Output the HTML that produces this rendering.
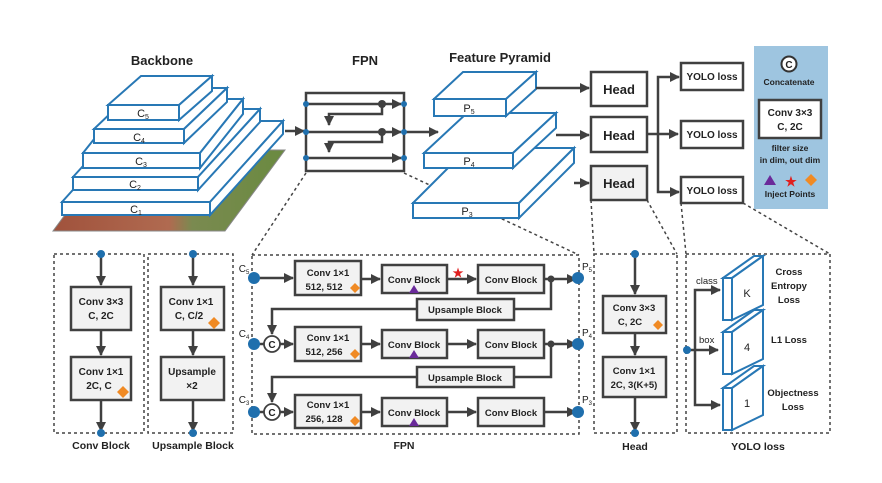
<!DOCTYPE html>
<html><head><meta charset="utf-8"><style>
html,body{margin:0;padding:0;background:#fff;}
svg{display:block;}
text{font-family:"Liberation Sans",sans-serif;font-weight:bold;fill:#222;}
</style></head><body>
<svg width="882" height="483" viewBox="0 0 882 483" xmlns="http://www.w3.org/2000/svg">
<defs>
<marker id="a" viewBox="0 0 10 10" refX="9" refY="5" markerWidth="4" markerHeight="4" orient="auto"><path d="M0,0L10,5L0,10z" fill="#404040"/></marker>
<linearGradient id="img" x1="0" y1="0" x2="1" y2="0"><stop offset="0" stop-color="#a0523c"/><stop offset="0.5" stop-color="#b06a50"/><stop offset="0.6" stop-color="#7a8a50"/><stop offset="1" stop-color="#6a8a40"/></linearGradient>
</defs>
<g stroke="#404040" stroke-width="2.5" fill="none">
<polygon points="53,231 225,231 285,150 113,150" fill="url(#img)" stroke="#888" stroke-width="1"/>
</g>
<g stroke="#2878b5" stroke-width="2" fill="#fff">
<polygon points="62,202 135,121 283,121 210,202"/><polygon points="210,202 283,121 283,134 210,215"/><rect x="62" y="202" width="148" height="13"/>
<polygon points="73,177 135,109 260,109 198,177"/><polygon points="198,177 260,109 260,122 198,190"/><rect x="73" y="177" width="125" height="13"/>
<polygon points="83,153 126,99 243,99 200,153"/><polygon points="200,153 243,99 243,114 200,168"/><rect x="83" y="153" width="117" height="15"/>
<polygon points="94,129 137,88 227,88 184,129"/><polygon points="184,129 227,88 227,102 184,143"/><rect x="94" y="129" width="90" height="14"/>
<polygon points="108,105 141,76 212,76 179,105"/><polygon points="179,105 212,76 212,91 179,120"/><rect x="108" y="105" width="71" height="15"/>
</g>
<g font-size="11" text-anchor="middle">
<text x="143" y="117" style="font-weight:normal">C<tspan font-size="7" dy="2">5</tspan></text>
<text x="139" y="141" style="font-weight:normal">C<tspan font-size="7" dy="2">4</tspan></text>
<text x="141" y="165" style="font-weight:normal">C<tspan font-size="7" dy="2">3</tspan></text>
<text x="135" y="188" style="font-weight:normal">C<tspan font-size="7" dy="2">2</tspan></text>
<text x="136" y="213" style="font-weight:normal">C<tspan font-size="7" dy="2">1</tspan></text>
</g>
<text x="162" y="65" font-size="13" text-anchor="middle">Backbone</text>
<text x="365" y="65" font-size="13" text-anchor="middle">FPN</text>
<text x="500" y="62" font-size="13" text-anchor="middle">Feature Pyramid</text>

<g stroke="#444" stroke-width="1.5" stroke-dasharray="3,3" fill="none">
<line x1="306" y1="173" x2="252" y2="255"/>
<line x1="404" y1="173" x2="579" y2="255"/>
<line x1="591" y1="200" x2="594" y2="254"/>
<line x1="647" y1="200" x2="677" y2="254"/>
<line x1="681" y1="203" x2="686" y2="254"/>
<line x1="743" y1="203" x2="830" y2="254"/>
</g>

<g stroke="#404040" stroke-width="2.5" fill="none">
<rect x="306" y="93" width="98" height="78" fill="#fff"/>
<line x1="285" y1="131" x2="304" y2="131" marker-end="url(#a)"/>
<line x1="306" y1="104" x2="401" y2="104" marker-end="url(#a)"/>
<line x1="306" y1="132" x2="401" y2="132" marker-end="url(#a)"/>
<line x1="306" y1="158" x2="401" y2="158" marker-end="url(#a)"/>
<polyline points="382,104 382,114 329,114 329,125" marker-end="url(#a)"/>
<polyline points="382,132 382,142 329,142 329,152" marker-end="url(#a)"/>
<line x1="404" y1="132" x2="438" y2="132" marker-end="url(#a)"/>
</g>
<g fill="#404040"><circle cx="382" cy="104" r="4"/><circle cx="382" cy="132" r="4"/></g>
<g fill="#1f6fad"><circle cx="306" cy="104" r="3"/><circle cx="306" cy="132" r="3"/><circle cx="306" cy="158" r="3"/><circle cx="404" cy="104" r="3"/><circle cx="404" cy="132" r="3"/><circle cx="404" cy="158" r="3"/></g>

<g stroke="#2878b5" stroke-width="2" fill="#fff">
<polygon points="413,203 468,148 574,148 519,203"/><polygon points="519,203 574,148 574,163 519,218"/><rect x="413" y="203" width="106" height="15"/>
<polygon points="424,153 467,113 556,113 513,153"/><polygon points="513,153 556,113 556,128 513,168"/><rect x="424" y="153" width="89" height="15"/>
<polygon points="434,99 463,72 536,72 506,99"/><polygon points="506,99 536,72 536,89 506,116"/><rect x="434" y="99" width="72" height="17"/>
</g>
<text x="469" y="112" font-size="11" text-anchor="middle" style="font-weight:normal">P<tspan font-size="7" dy="2">5</tspan></text>
<text x="469" y="165" font-size="11" text-anchor="middle" style="font-weight:normal">P<tspan font-size="7" dy="2">4</tspan></text>
<text x="467" y="215" font-size="11" text-anchor="middle" style="font-weight:normal">P<tspan font-size="7" dy="2">3</tspan></text>

<g stroke="#404040" stroke-width="2.5" fill="none">
<line x1="536" y1="88" x2="589" y2="88" marker-end="url(#a)"/>
<line x1="556" y1="135" x2="589" y2="135" marker-end="url(#a)"/>
<line x1="574" y1="183" x2="589" y2="183" marker-end="url(#a)"/>
<rect x="591" y="72" width="56" height="34" fill="#fff"/>
<rect x="591" y="117" width="56" height="35" fill="#fff"/>
<rect x="591" y="166" width="56" height="34" fill="#f2f2f2"/>
<line x1="647" y1="134" x2="678" y2="134" marker-end="url(#a)"/>
<polyline points="678,77 658,77 658,192 678,192" />
<line x1="670" y1="77" x2="679" y2="77" marker-end="url(#a)"/>
<line x1="670" y1="192" x2="679" y2="192" marker-end="url(#a)"/>
<rect x="681" y="63" width="62" height="27" fill="#fff"/>
<rect x="681" y="121" width="62" height="27" fill="#fff"/>
<rect x="681" y="177" width="62" height="26" fill="#fff"/>
</g>
<g font-size="13" text-anchor="middle"><text x="619" y="94">Head</text><text x="619" y="140">Head</text><text x="619" y="188">Head</text></g>
<g font-size="10" text-anchor="middle"><text x="712" y="80">YOLO loss</text><text x="712" y="138">YOLO loss</text><text x="712" y="194">YOLO loss</text></g>

<rect x="754" y="46" width="74" height="163" fill="#9ec5e0"/>
<circle cx="789" cy="64" r="7.5" fill="#fff" stroke="#333" stroke-width="2"/>
<text x="789" y="68" font-size="10" text-anchor="middle">C</text>
<text x="789" y="85" font-size="8.5" text-anchor="middle">Concatenate</text>
<rect x="759" y="100" width="62" height="38" fill="#fff" stroke="#404040" stroke-width="2.5"/>
<text x="790" y="116" font-size="10" text-anchor="middle">Conv 3×3</text>
<text x="790" y="130" font-size="10" text-anchor="middle">C, 2C</text>
<text x="790" y="151" font-size="8.5" text-anchor="middle">filter size</text>
<text x="790" y="163" font-size="8.5" text-anchor="middle">in dim, out dim</text>
<polygon points="764,185 770,175 776,185" fill="#6a2a9a"/>
<text x="791" y="186" font-size="13" text-anchor="middle" style="fill:#e02020">★</text>
<polygon points="811,174 817,180 811,186 805,180" fill="#f08a24"/>
<text x="790" y="197" font-size="8.5" text-anchor="middle">Inject Points</text>

<g stroke="#444" stroke-width="1.5" stroke-dasharray="3,3" fill="none">
<rect x="54" y="254" width="90" height="179"/>
<rect x="148" y="254" width="85" height="179"/>
<rect x="252" y="255" width="327" height="179"/>
<rect x="594" y="254" width="83" height="179"/>
<rect x="686" y="254" width="144" height="179"/>
</g>

<g stroke="#404040" stroke-width="2.5">
<line x1="101" y1="254" x2="101" y2="285" marker-end="url(#a)"/>
<line x1="101" y1="330" x2="101" y2="355" marker-end="url(#a)"/>
<line x1="101" y1="400" x2="101" y2="431" marker-end="url(#a)"/>
<line x1="193" y1="254" x2="193" y2="285" marker-end="url(#a)"/>
<line x1="193" y1="330" x2="193" y2="355" marker-end="url(#a)"/>
<line x1="193" y1="400" x2="193" y2="431" marker-end="url(#a)"/>
<rect x="71" y="287" width="60" height="43" fill="#f2f2f2"/>
<rect x="71" y="357" width="60" height="43" fill="#f2f2f2"/>
<rect x="161" y="287" width="63" height="43" fill="#f2f2f2"/>
<rect x="161" y="357" width="63" height="43" fill="#f2f2f2"/>
</g>
<g fill="#1f6fad"><circle cx="101" cy="254" r="4"/><circle cx="101" cy="433" r="4"/><circle cx="193" cy="254" r="4"/><circle cx="193" cy="433" r="4"/></g>
<g font-size="10" text-anchor="middle">
<text x="101" y="305">Conv 3×3</text><text x="101" y="319">C, 2C</text>
<text x="101" y="375">Conv 1×1</text><text x="99" y="389">2C, C</text>
<text x="191" y="305">Conv 1×1</text><text x="189" y="319">C, C/2</text>
<text x="192" y="375">Upsample</text><text x="192" y="389">×2</text>
<text x="101" y="449" font-size="10.5">Conv Block</text>
<text x="193" y="449" font-size="10.5">Upsample Block</text>
<text x="404" y="449" font-size="10.5">FPN</text>
<text x="635" y="450" font-size="10.5">Head</text>
<text x="758" y="450" font-size="10.5">YOLO loss</text>
</g>
<polygon points="123,386 129,392 123,398 117,392" fill="#f08a24"/>
<polygon points="214,317 220,323 214,329 208,323" fill="#f08a24"/>

<g stroke="#404040" stroke-width="2.5" fill="none">
<line x1="254" y1="278" x2="293" y2="278" marker-end="url(#a)"/>
<line x1="361" y1="279" x2="380" y2="279" marker-end="url(#a)"/>
<line x1="447" y1="279" x2="476" y2="279" marker-end="url(#a)"/>
<line x1="544" y1="279" x2="576" y2="279" marker-end="url(#a)"/>
<line x1="280" y1="344" x2="293" y2="344" marker-end="url(#a)"/>
<line x1="361" y1="344" x2="380" y2="344" marker-end="url(#a)"/>
<line x1="447" y1="344" x2="476" y2="344" marker-end="url(#a)"/>
<line x1="544" y1="344" x2="576" y2="344" marker-end="url(#a)"/>
<line x1="280" y1="412" x2="293" y2="412" marker-end="url(#a)"/>
<line x1="361" y1="412" x2="380" y2="412" marker-end="url(#a)"/>
<line x1="447" y1="412" x2="476" y2="412" marker-end="url(#a)"/>
<line x1="544" y1="412" x2="576" y2="412" marker-end="url(#a)"/>
<line x1="254" y1="344" x2="264" y2="344"/>
<line x1="254" y1="412" x2="264" y2="412"/>
<polyline points="551,279 551,309 514,309"/>
<polyline points="417,309 272,309 272,334" marker-end="url(#a)"/>
<polyline points="551,344 551,377 514,377"/>
<polyline points="417,377 272,377 272,402" marker-end="url(#a)"/>
<rect x="295" y="261" width="66" height="34" fill="#f2f2f2"/>
<rect x="295" y="327" width="66" height="34" fill="#f2f2f2"/>
<rect x="295" y="395" width="66" height="33" fill="#f2f2f2"/>
<rect x="382" y="265" width="65" height="28" fill="#f2f2f2"/>
<rect x="382" y="330" width="65" height="28" fill="#f2f2f2"/>
<rect x="382" y="398" width="65" height="28" fill="#f2f2f2"/>
<rect x="478" y="265" width="66" height="28" fill="#f2f2f2"/>
<rect x="478" y="330" width="66" height="28" fill="#f2f2f2"/>
<rect x="478" y="398" width="66" height="28" fill="#f2f2f2"/>
<rect x="417" y="299" width="97" height="21" fill="#f2f2f2"/>
<rect x="417" y="367" width="97" height="20" fill="#f2f2f2"/>
</g>
<g fill="#404040"><circle cx="551" cy="279" r="3.5"/><circle cx="551" cy="344" r="3.5"/></g>
<g fill="#fff" stroke="#404040" stroke-width="1.8"><circle cx="272" cy="344" r="8"/><circle cx="272" cy="412" r="8"/></g>
<g font-size="10" text-anchor="middle"><text x="272" y="348">C</text><text x="272" y="416">C</text></g>
<g fill="#1f6fad"><circle cx="254" cy="278" r="6"/><circle cx="254" cy="344" r="6"/><circle cx="254" cy="412" r="6"/><circle cx="578" cy="278" r="6"/><circle cx="578" cy="344" r="6"/><circle cx="578" cy="412" r="6"/></g>
<g font-size="10" text-anchor="middle">
<text x="244" y="272" style="font-weight:normal">C<tspan font-size="6" dy="2">5</tspan></text>
<text x="244" y="337" style="font-weight:normal">C<tspan font-size="6" dy="2">4</tspan></text>
<text x="244" y="403" style="font-weight:normal">C<tspan font-size="6" dy="2">3</tspan></text>
<text x="587" y="270" style="font-weight:normal">P<tspan font-size="6" dy="2">5</tspan></text>
<text x="587" y="336" style="font-weight:normal">P<tspan font-size="6" dy="2">4</tspan></text>
<text x="587" y="403" style="font-weight:normal">P<tspan font-size="6" dy="2">3</tspan></text>
</g>
<g font-size="9.5" text-anchor="middle">
<text x="328" y="276">Conv 1×1</text><text x="324" y="290">512, 512</text>
<text x="328" y="341">Conv 1×1</text><text x="324" y="355">512, 256</text>
<text x="328" y="408">Conv 1×1</text><text x="324" y="422">256, 128</text>
<text x="414" y="283">Conv Block</text><text x="414" y="348">Conv Block</text><text x="414" y="416">Conv Block</text>
<text x="511" y="283">Conv Block</text><text x="511" y="348">Conv Block</text><text x="511" y="416">Conv Block</text>
<text x="465" y="313">Upsample Block</text><text x="465" y="381">Upsample Block</text>
</g>
<g fill="#f08a24">
<polygon points="355,283 360,288 355,293 350,288"/>
<polygon points="355,349 360,354 355,359 350,354"/>
<polygon points="355,416 360,421 355,426 350,421"/>
</g>
<g fill="#6a2a9a">
<polygon points="409,293 414,285 419,293"/>
<polygon points="409,358 414,350 419,358"/>
<polygon points="409,426 414,418 419,426"/>
</g>
<text x="458" y="277" font-size="12" text-anchor="middle" style="fill:#e02020">★</text>

<g stroke="#404040" stroke-width="2.5">
<line x1="635" y1="254" x2="635" y2="294" marker-end="url(#a)"/>
<line x1="635" y1="333" x2="635" y2="355" marker-end="url(#a)"/>
<line x1="635" y1="397" x2="635" y2="431" marker-end="url(#a)"/>
<rect x="603" y="296" width="63" height="37" fill="#f2f2f2"/>
<rect x="603" y="357" width="63" height="40" fill="#f2f2f2"/>
</g>
<g fill="#1f6fad"><circle cx="635" cy="254" r="4"/><circle cx="635" cy="433" r="4"/></g>
<g font-size="9.5" text-anchor="middle">
<text x="634" y="311">Conv 3×3</text><text x="630" y="325">C, 2C</text>
<text x="634" y="374">Conv 1×1</text><text x="634" y="388">2C, 3(K+5)</text>
</g>
<polygon points="658,320 663,325 658,330 653,325" fill="#f08a24"/>

<g stroke="#404040" stroke-width="2.5" fill="none">
<line x1="687" y1="350" x2="718" y2="350" marker-end="url(#a)"/>
<polyline points="718,290 695,290 695,405 718,405"/>
<line x1="710" y1="290" x2="720" y2="290" marker-end="url(#a)"/>
<line x1="710" y1="405" x2="720" y2="405" marker-end="url(#a)"/>
</g>
<circle cx="687" cy="350" r="4" fill="#1f6fad"/>
<g font-size="9.5"><text x="696" y="284" style="font-weight:normal">class</text><text x="699" y="343" style="font-weight:normal">box</text></g>
<g stroke="#2878b5" stroke-width="2" fill="#fff">
<polygon points="723,278 754,256 763,256 732,278"/><polygon points="732,278 763,256 763,305 732,320"/><rect x="723" y="278" width="9" height="42"/>
<polygon points="723,332 754,310 763,310 732,332"/><polygon points="732,332 763,310 763,359 732,374"/><rect x="723" y="332" width="9" height="42"/>
<polygon points="723,388 754,366 763,366 732,388"/><polygon points="732,388 763,366 763,415 732,430"/><rect x="723" y="388" width="9" height="42"/>
</g>
<g font-size="11" text-anchor="middle">
<text x="747" y="297" style="font-weight:normal">K</text>
<text x="747" y="351" style="font-weight:normal">4</text>
<text x="747" y="407" style="font-weight:normal">1</text>
</g>
<g font-size="9.5" text-anchor="middle">
<text x="789" y="275">Cross</text><text x="789" y="289">Entropy</text><text x="789" y="303">Loss</text>
<text x="789" y="343">L1 Loss</text>
<text x="793" y="396">Objectness</text><text x="793" y="410">Loss</text>
</g>
</svg>
</body></html>
